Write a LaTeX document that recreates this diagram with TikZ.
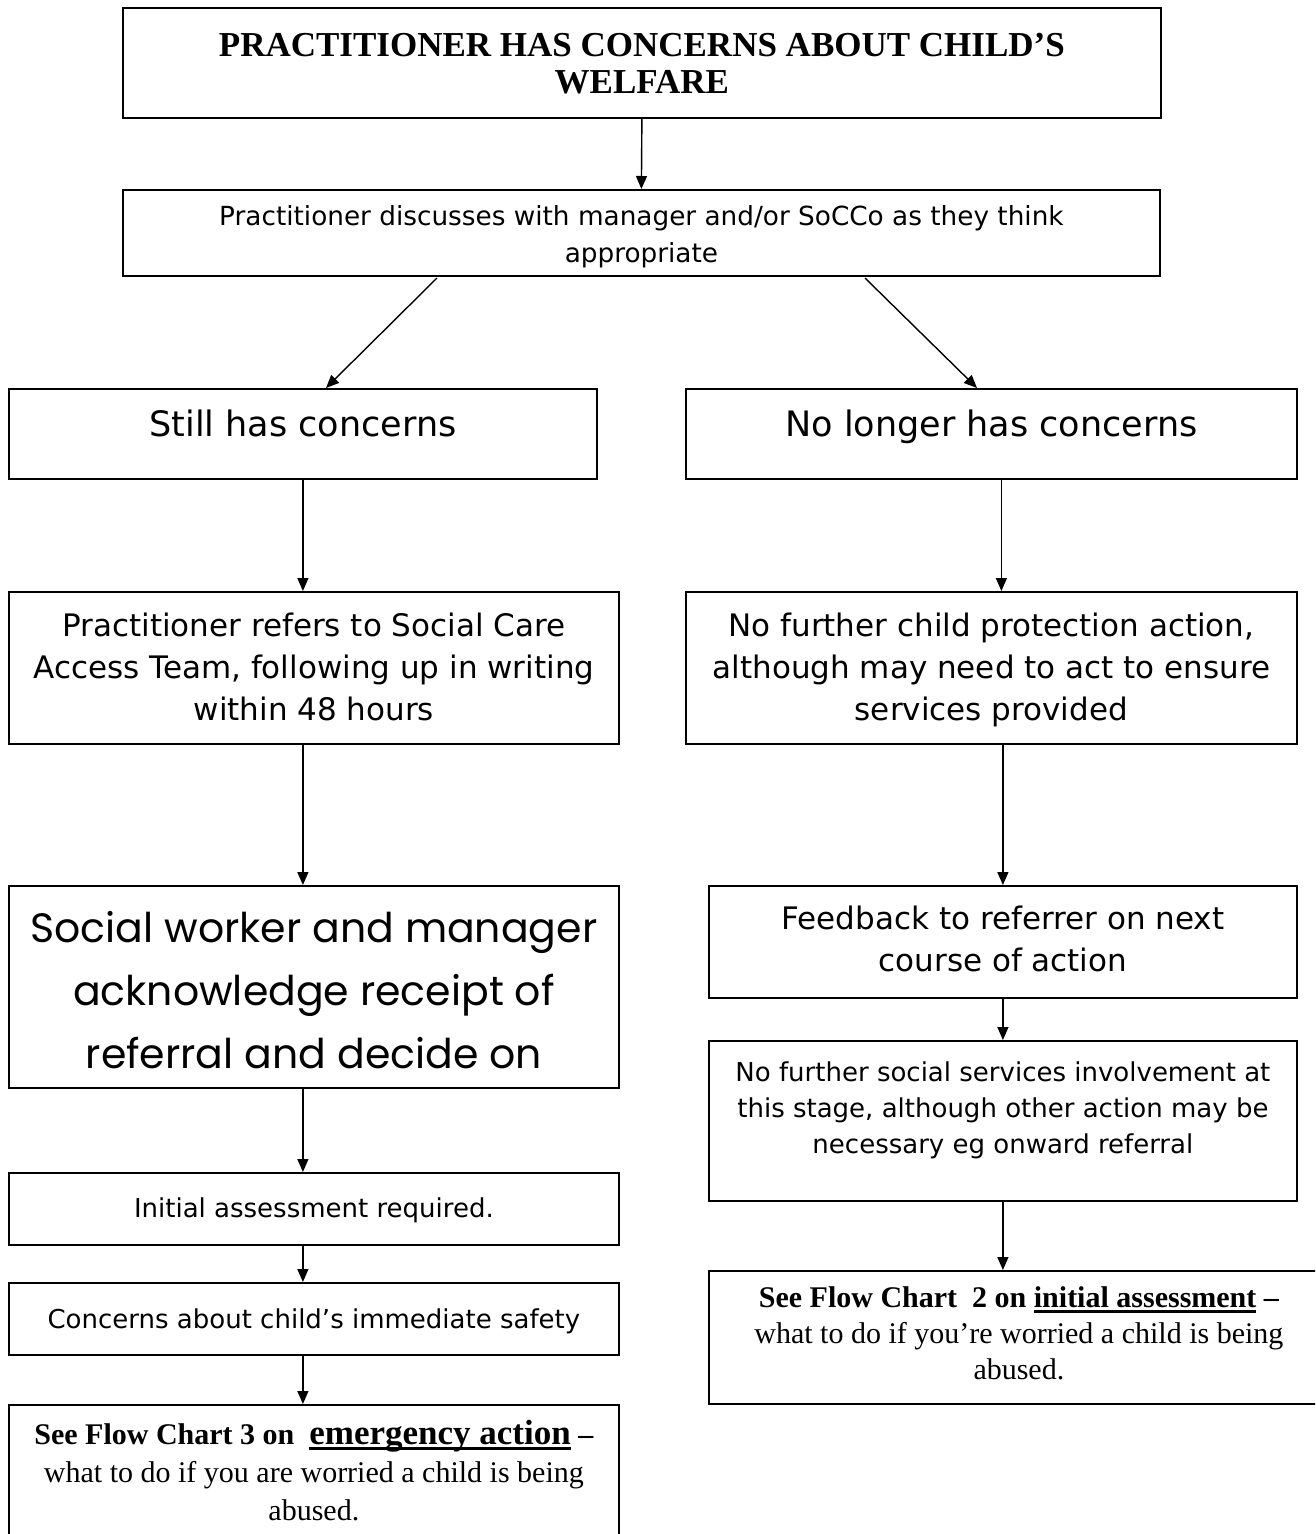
\documentclass[tikz,border=0pt]{standalone}
\usepackage{fontspec}
\setmainfont{Liberation Serif}
\newfontfamily\vfont{DejaVu Sans}
\newfontfamily\cfont{Poppins}
\usetikzlibrary{arrows.meta,calc}
% #1 width, #2 height, #3 top pad, #4 font size, #5 baselineskip, #6 text
\newcommand\fb[6]{\parbox[t][#2pt][t]{#1pt}{\centering\fontsize{#4pt}{#5pt}\selectfont\vspace*{#3pt}\rule{0pt}{#4pt}#6\par}}
\newcommand\thul[1]{\setbox0\hbox{#1}\rlap{\rule[-5pt]{\wd0}{2.5pt}}\box0\relax}
\begin{document}
\begin{tikzpicture}[x=1pt,y=-1pt,
  fbox/.style={draw, line width=1.8pt, inner sep=0pt, anchor=north west},
  arr/.style={-{Triangle[length=13pt,width=11pt]}, line width=1.4pt}]
\useasboundingbox (0,0) rectangle (1315,1534);
\clip (0,0) rectangle (1315,1534);
\fill[white] (0,0) rectangle (1315,1534);

\node[fbox] (title) at (122,7) {\fb{1038}{110}{13.6}{35}{37}{\bfseries PRACTITIONER HAS CONCERNS ABOUT CHILD’S\\ WELFARE}};
\node[fbox] (discuss) at (122,189) {\fb{1037}{86}{9.6}{26.3}{37}{\vfont Practitioner discusses with manager and/or SoCCo as they think\\ appropriate}};
\node[fbox] (still) at (8,388) {\fb{588}{90}{12.6}{35}{42}{\vfont Still has concerns}};
\node[fbox] (nolonger) at (685,388) {\fb{611}{90}{12.6}{35}{42}{\vfont No longer has concerns}};
\node[fbox] (refers) at (8,591) {\fb{610}{152}{13.2}{31}{42}{\vfont Practitioner refers to Social Care\\ Access Team, following up in writing\\ within 48 hours}};
\node[fbox] (nofurther) at (685,591) {\fb{611}{152}{13.2}{31}{42}{\vfont No further child protection action,\\ although may need to act to ensure\\ services provided}};
\node[fbox] (social) at (8,885) {\fb{610}{202}{16}{41}{63}{\cfont Social worker and manager\\ acknowledge receipt of\\ referral and decide on}};
\node[fbox] (feedback) at (708,885) {\fb{588}{112}{12.2}{31}{42}{\vfont Feedback to referrer on next\\ course of action}};
\node[fbox] (nosocial) at (708,1040) {\fb{588}{160}{14.6}{26}{36}{\vfont No further social services involvement at\\ this stage, although other action may be\\ necessary eg onward referral}};
\node[fbox] (initial) at (8,1172) {\fb{610}{72}{18.6}{26}{30}{\vfont Initial assessment required.}};
\node[fbox] (concerns) at (8,1282) {\fb{610}{72}{19.6}{26}{30}{\vfont Concerns about child’s immediate safety}};
\node[fbox] (see3) at (8,1404) {\fb{610}{150}{10}{30}{38}{\textbf{See Flow Chart 3 on\ \ {\fontsize{35pt}{38pt}\selectfont\thul{emergency action}} –}\\ what to do if you are worried a child is being\\ abused.}};
\node[fbox] (see2) at (708,1270) {\fb{620}{133}{7}{30}{36}{\textbf{See Flow Chart\ \ 2 on \thul{initial assessment} –}\\ what to do if you’re worried a child is being\\ abused.}};

\coordinate (dL) at (437,278);
\coordinate (sL) at (326,388);
\coordinate (dR) at (865,278);
\coordinate (sR) at (977,388);

\draw[arr] (title.south) -- (discuss.north);
\draw[arr] (dL) -- (sL);
\draw[arr] (dR) -- (sR);
\draw[arr] (still.south) -- (still.south |- refers.north);
\draw[arr] ([xshift=10pt]nolonger.south) -- ([xshift=10pt]nolonger.south |- nofurther.north);
\draw[arr] (still.south |- refers.south) -- (still.south |- social.north);
\draw[arr] (feedback.north |- nofurther.south) -- (feedback.north);
\draw[arr] (still.south |- social.south) -- (still.south |- initial.north);
\draw[arr] (still.south |- initial.south) -- (still.south |- concerns.north);
\draw[arr] (still.south |- concerns.south) -- (still.south |- see3.north);
\draw[arr] (feedback.south) -- (nosocial.north);
\draw[arr] (nosocial.south) -- (nosocial.south |- see2.north);
\end{tikzpicture}
\end{document}
